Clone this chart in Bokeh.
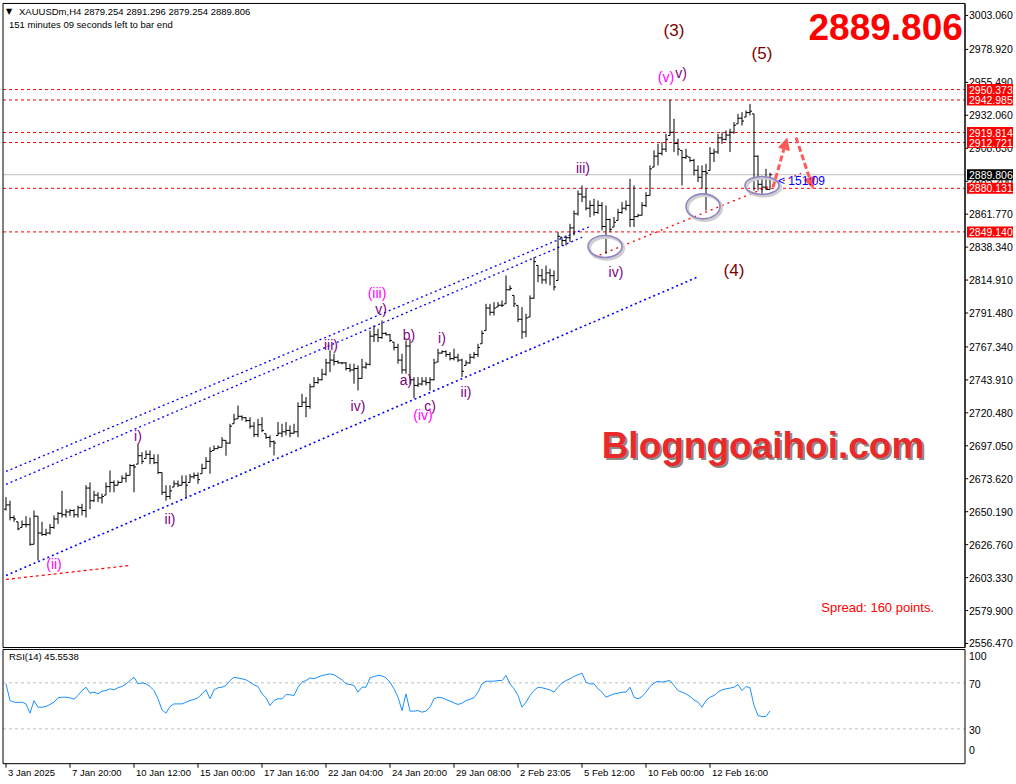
from bokeh.plotting import figure
from bokeh.models import ColumnDataSource, Label, Arrow, NormalHead, Range1d
from bokeh.embed import file_html
from bokeh.resources import INLINE
from bokeh.core.properties import value

# ---------------- data (XAUUSDm, H4) ----------------
high = [2660.6, 2658.0, 2647.5, 2643.0, 2644.0, 2647.0, 2646.0, 2651.0, 2647.0, 2643.0,
        2638.0, 2641.5, 2647.5, 2650.0, 2665.0, 2652.0, 2652.0, 2652.0, 2654.6, 2655.8,
        2669.0, 2671.0, 2665.0, 2664.0, 2663.0, 2671.0, 2679.5, 2672.4, 2672.4, 2676.0,
        2678.0, 2684.0, 2684.0, 2698.5, 2692.5, 2693.7, 2693.7, 2691.0, 2691.0, 2678.0,
        2669.0, 2669.0, 2672.4, 2672.4, 2676.0, 2676.0, 2677.0, 2678.0, 2678.0, 2684.3,
        2689.0, 2696.0, 2697.3, 2697.3, 2703.2, 2700.9, 2712.7, 2719.8, 2725.7, 2718.6,
        2717.4, 2717.4, 2713.9, 2716.2, 2717.4, 2705.6, 2704.4, 2700.9, 2713.9, 2712.7,
        2713.9, 2711.5, 2712.7, 2728.0, 2734.0, 2731.7, 2741.2, 2745.9, 2745.9, 2751.8,
        2758.9, 2764.9, 2762.5, 2757.8, 2756.6, 2756.6, 2755.4, 2755.4, 2754.2, 2758.9,
        2756.6, 2779.0, 2782.6, 2780.3, 2786.2, 2777.9, 2776.7, 2770.8, 2769.6, 2762.5,
        2772.0, 2773.1, 2745.9, 2745.9, 2745.9, 2745.9, 2745.9, 2758.9, 2766.0, 2764.9,
        2764.9, 2763.7, 2766.1, 2762.5, 2759.0, 2757.8, 2762.5, 2763.7, 2769.6, 2779.0,
        2798.0, 2798.0, 2799.2, 2799.2, 2800.4, 2818.2, 2811.1, 2804.0, 2796.9, 2795.7,
        2790.9, 2804.0, 2831.2, 2825.3, 2822.9, 2825.3, 2822.9, 2821.7, 2849.0, 2845.4,
        2846.6, 2854.9, 2864.4, 2878.6, 2882.2, 2879.8, 2871.5, 2872.7, 2871.5, 2870.3,
        2868.0, 2858.5, 2859.7, 2865.6, 2870.3, 2871.5, 2886.9, 2882.2, 2862.0, 2870.3,
        2877.4, 2896.4, 2907.1, 2911.8, 2913.0, 2918.9, 2943.1, 2929.6, 2915.4, 2907.1,
        2908.3, 2902.3, 2901.1, 2896.4, 2896.4, 2897.6, 2909.4, 2908.3, 2918.9, 2920.1,
        2921.3, 2922.5, 2927.2, 2933.1, 2934.3, 2935.5, 2940.2, 2933.1, 2903.5, 2886.9,
        2894.0, 2891.296]

low = [2651.0, 2644.0, 2643.0, 2637.0, 2639.0, 2639.0, 2626.0, 2627.0, 2615.5, 2633.0,
       2633.0, 2634.0, 2638.0, 2641.5, 2646.0, 2646.0, 2647.0, 2646.0, 2646.0, 2647.5,
       2646.0, 2652.0, 2657.0, 2657.0, 2656.0, 2662.0, 2664.0, 2664.0, 2669.0, 2671.0,
       2671.0, 2676.0, 2664.0, 2684.0, 2684.0, 2688.0, 2684.0, 2684.0, 2677.0, 2662.0,
       2658.0, 2659.0, 2667.7, 2667.7, 2669.0, 2660.6, 2671.0, 2673.6, 2670.0, 2677.2,
       2680.7, 2677.2, 2693.7, 2695.0, 2696.0, 2690.0, 2698.5, 2712.7, 2716.2, 2715.0,
       2713.9, 2709.2, 2703.2, 2703.2, 2706.8, 2702.0, 2696.0, 2690.2, 2704.4, 2703.2,
       2704.4, 2703.2, 2705.6, 2703.2, 2724.6, 2717.4, 2723.4, 2738.8, 2741.2, 2743.5,
       2747.0, 2749.4, 2754.2, 2755.4, 2755.0, 2750.6, 2749.4, 2741.2, 2736.4, 2744.7,
       2751.8, 2754.2, 2770.8, 2770.8, 2773.1, 2775.5, 2770.8, 2764.9, 2755.4, 2748.3,
       2748.3, 2741.2, 2731.0, 2738.8, 2740.0, 2740.0, 2736.4, 2743.5, 2756.6, 2762.5,
       2760.1, 2757.8, 2757.8, 2756.6, 2746.0, 2754.2, 2755.4, 2759.0, 2760.1, 2769.6,
       2779.0, 2789.7, 2789.7, 2795.7, 2795.7, 2798.0, 2807.5, 2795.7, 2785.0, 2773.1,
       2774.3, 2788.6, 2801.6, 2813.4, 2812.3, 2812.3, 2811.1, 2807.5, 2814.6, 2839.5,
       2839.5, 2841.9, 2846.6, 2860.8, 2870.3, 2864.4, 2859.6, 2860.8, 2862.0, 2850.2,
       2833.6, 2849.0, 2852.6, 2857.3, 2862.0, 2864.4, 2852.6, 2852.6, 2859.7, 2860.8,
       2866.8, 2875.1, 2895.2, 2896.4, 2903.5, 2905.9, 2917.7, 2905.9, 2903.5, 2882.2,
       2901.1, 2898.8, 2889.3, 2884.6, 2879.8, 2864.4, 2892.8, 2898.8, 2904.7, 2911.8,
       2914.2, 2905.9, 2918.9, 2926.0, 2924.8, 2930.8, 2932.0, 2878.6, 2878.6, 2876.2,
       2879.2, 2879.254]

close = [2655, 2646, 2645, 2638, 2641, 2641, 2627, 2647, 2635, 2634,
         2635, 2639, 2645, 2649, 2648, 2650, 2651, 2648, 2653, 2651,
         2667, 2658, 2662, 2660, 2661, 2668, 2671, 2669, 2671, 2674,
         2676, 2683, 2682, 2690, 2686, 2691, 2688, 2685, 2678, 2664,
         2661, 2665, 2670, 2669, 2671, 2669, 2675, 2676, 2673, 2681,
         2686, 2693, 2695, 2696, 2701, 2699, 2711, 2716, 2718, 2717,
         2715, 2711, 2705, 2712, 2708, 2703, 2700, 2699, 2706, 2707,
         2708, 2706, 2707, 2725, 2728, 2725, 2739, 2742, 2744, 2748,
         2756, 2758, 2757, 2756, 2756, 2752, 2751, 2752, 2745, 2753,
         2755, 2775, 2776, 2774, 2777, 2776, 2772, 2767, 2758, 2751,
         2768, 2744, 2740, 2741, 2743, 2742, 2744, 2756, 2763, 2764,
         2762, 2759, 2760, 2758, 2750, 2756, 2760, 2762, 2767, 2777,
         2795, 2792, 2795, 2797, 2797, 2808, 2809, 2798, 2787, 2778,
         2788, 2802, 2828, 2818, 2815, 2820, 2818, 2810, 2846, 2843,
         2845, 2852, 2862, 2876, 2874, 2866, 2868, 2863, 2868, 2853,
         2858, 2851, 2856, 2863, 2866, 2868, 2858, 2860, 2861, 2868,
         2875, 2894, 2903, 2905, 2908, 2915, 2920, 2912, 2908, 2902,
         2903, 2900, 2893, 2888, 2892, 2891, 2905, 2906, 2916, 2915,
         2918, 2920, 2925, 2930, 2928, 2934, 2935, 2903, 2883, 2881,
         2879.254, 2889.806]

first_open = 2652.0

rsi = [69.1, 54.6, 53.2, 52.9, 53.2, 51.7, 43.6, 54.6, 48.8, 48.8,
       49.4, 51.2, 53.2, 57.0, 57.5, 57.5, 57.0, 55.8, 59.0, 63.3,
       66.2, 61.0, 61.9, 60.4, 62.8, 63.3, 64.8, 63.9, 65.7, 66.8,
       69.1, 72.0, 74.9, 69.1, 70.0, 69.1, 66.8, 63.3, 56.1, 46.5,
       43.6, 49.4, 51.7, 51.7, 51.7, 53.2, 54.6, 55.5, 57.0, 60.4,
       63.9, 56.1, 63.9, 65.7, 66.2, 67.7, 72.0, 74.9, 74.1, 73.5,
       72.6, 70.6, 68.3, 66.8, 60.4, 57.0, 50.3, 54.6, 56.1, 56.1,
       59.9, 59.6, 59.0, 66.2, 70.6, 72.0, 74.3, 73.5, 74.9, 76.4,
       77.0, 77.8, 77.0, 74.9, 72.6, 69.1, 68.6, 67.7, 61.9, 66.2,
       66.2, 74.3, 75.5, 76.4, 76.1, 74.3, 70.6, 64.8, 57.5, 45.9,
       60.4, 45.4, 45.4, 45.9, 44.5, 45.4, 48.8, 56.1, 57.5, 57.0,
       55.5, 54.1, 52.6, 51.2, 52.3, 54.6, 55.8, 57.0, 61.9, 69.1,
       71.4, 71.4, 71.4, 72.0, 72.0, 76.4, 69.1, 64.8, 59.0, 48.8,
       53.2, 59.0, 63.3, 66.2, 65.7, 64.8, 63.9, 61.9, 66.2, 69.7,
       72.0, 73.5, 75.5, 77.0, 78.4, 70.6, 69.1, 69.1, 64.8, 61.9,
       57.5, 59.0, 60.4, 61.0, 61.9, 61.9, 66.2, 57.5, 56.1, 58.1,
       61.9, 66.8, 69.7, 71.4, 70.6, 71.4, 72.0, 67.7, 63.3, 61.9,
       60.4, 58.1, 55.2, 53.2, 48.8, 54.6, 57.5, 59.0, 61.9, 63.9,
       64.8, 65.4, 66.2, 68.6, 63.3, 66.8, 65.7, 50.3, 41.6, 40.7,
       40.7, 45.5538]

price_ticks = [3003.06, 2978.92, 2955.49, 2932.06, 2908.63, 2885.20, 2861.77, 2838.34,
               2814.91, 2791.48, 2767.34, 2743.91, 2720.48, 2697.05, 2673.62, 2650.19,
               2626.76, 2603.33, 2579.90, 2556.47]
level_prices = [2950.373, 2942.985, 2919.814, 2912.721, 2880.131, 2849.140]
last_price = 2889.806

rsi_levels = [70, 30]
rsi_tick_labels = ["100", "70", "30", "0"]

time_tick_bars = [0, 16, 32, 48, 64, 80, 96, 112, 128, 144, 160, 176]
time_tick_labels = ["3 Jan 2025", "7 Jan 20:00", "10 Jan 12:00", "15 Jan 00:00", "17 Jan 16:00",
                    "22 Jan 04:00", "24 Jan 20:00", "29 Jan 08:00", "2 Feb 23:05", "5 Feb 12:00",
                    "10 Feb 00:00", "12 Feb 16:00"]

FONT = "Liberation Sans"

# ---------------- layout geometry (bar index / price / rsi units) ----------------
X_L, X_R = -0.75, 239.75            # plot panel left / right (price scale at right)
MAIN_TOP, MAIN_BOT = 3011.6, 2553.6  # main panel in price units
RSI_TOP, RSI_BOT = 99.0, -0.3        # rsi panel in rsi units
TICK = 0.8                           # tick length in bars
LBL_X = X_R + 1.0                    # left edge of scale labels
BOX_X = 246.0                        # centre of the price boxes
rsi_label_pos = [93.7, 69.4, 29.4, 11.5]

p = figure(width=1016, height=784, x_range=Range1d(-1.375, 252.625),
           y_range=Range1d(2456.2, 3013.7), extra_y_ranges={"rsi": Range1d(-18.4, 663.3)},
           x_axis_location=None, y_axis_location=None, toolbar_location=None,
           output_backend="svg", min_border=0, outline_line_color=None,
           background_fill_color="white", border_fill_color="white")
p.xgrid.visible = False
p.ygrid.visible = False

# ---------------- main price panel ----------------
n = len(close)
idx = list(range(n))
opens = [first_open] + close[:-1]
opens = [min(max(o, l), h) for o, l, h in zip(opens, low, high)]
src = ColumnDataSource(dict(x=idx, xl=[i - 0.5 for i in idx], xr=[i + 0.5 for i in idx],
                            high=high, low=low, open=opens, close=close))

# level lines
p.segment(x0=X_L, x1=X_R, y0=level_prices, y1=level_prices, line_color="#ff0000",
          line_dash="3 3", line_width=1)
p.segment(x0=X_L, x1=X_R, y0=last_price, y1=last_price, line_color="#c0c0c0", line_width=1)

# channel lines
p.line([0, 146.25], [2678.8, 2853.3], line_color="#0000ff", line_dash="2 3", line_width=1.3)
p.line([0, 144.5], [2669.6, 2845.9], line_color="#0000ff", line_dash="2 3", line_width=1.3)
p.line([0, 173.25], [2604.8, 2817.5], line_color="#0000ff", line_dash="2 3", line_width=1.6)
p.line([0, 30.75], [2602.0, 2611.9], line_color="#ff0000", line_dash="3 3", line_width=1.2)
p.line([147, 198.75], [2831.0, 2890.7], line_color="#ff0000", line_dash="2 4", line_width=1.3)

# bars
p.segment(x0="x", y0="low", x1="x", y1="high", source=src, line_color="black", line_width=1)
p.segment(x0="xl", y0="open", x1="x", y1="open", source=src, line_color="black", line_width=1)
p.segment(x0="x", y0="close", x1="xr", y1="close", source=src, line_color="black", line_width=1)

# ellipses around the lows
ell_x = [149.75, 174.25, 189.0]
ell_y = [2838.8, 2867.3, 2882.2]
ell_w = [34, 34, 34]
ell_h = [22, 25, 18]
p.ellipse(x=[e + 0.4 for e in ell_x], y=[e - 1.2 for e in ell_y], width=ell_w, height=ell_h,
          width_units="screen", height_units="screen", fill_color=None,
          line_color="#cfcfcf", line_width=3)
p.ellipse(x=ell_x, y=ell_y, width=ell_w, height=ell_h, width_units="screen",
          height_units="screen", fill_color=None, line_color="#9484c4", line_width=1.6)

# price scale
p.segment(x0=X_R, x1=X_R, y0=MAIN_BOT, y1=MAIN_TOP, line_color="black", line_width=1)
p.segment(x0=X_R, x1=X_R + TICK, y0=price_ticks, y1=price_ticks, line_color="black")
p.text(x=LBL_X, y=price_ticks, text=[f"{v:.3f}" for v in price_ticks], text_align="left",
       text_baseline="middle", text_color="black", text_font=value(FONT),
       text_font_size="10.5px")
p.rect(x=BOX_X, y=level_prices, width=46, height=11, width_units="screen",
       height_units="screen", fill_color="#ff0000", line_color=None)
p.text(x=LBL_X, y=level_prices, text=[f"{v:.3f}" for v in level_prices], text_align="left",
       text_baseline="middle", text_color="white", text_font=value(FONT),
       text_font_size="10.5px")
p.rect(x=BOX_X, y=last_price, width=46, height=11, width_units="screen",
       height_units="screen", fill_color="black", line_color=None)
p.text(x=LBL_X, y=[last_price], text=[f"{last_price:.3f}"], text_align="left",
       text_baseline="middle", text_color="white", text_font=value(FONT),
       text_font_size="10.5px")

# panel frame
p.quad(left=X_L, right=X_R, top=MAIN_TOP, bottom=MAIN_BOT, fill_color=None,
       line_color="black", line_width=1)

# arrows
for (xs, ys, xe, ye) in [(191.75, 2880.8, 195.25, 2915.7), (197.5, 2916.3, 201.75, 2880.1)]:
    p.add_layout(Arrow(end=NormalHead(size=11, fill_color="#ff5a5a", line_color="#ff5a5a"),
                       x_start=xs, y_start=ys, x_end=xe, y_end=ye,
                       line_color="#ff5a5a", line_width=3, line_dash="6 3"))

# wave labels
MAG, PUR, DRED = "#ff00ff", "#800080", "#800000"
waves = [("(3)", 167, 2992.4, DRED, "17px"), ("(5)", 189, 2976.0, DRED, "17px"),
         ("(4)", 182, 2821.7, DRED, "17px"),
         ("(v)", 165, 2959.0, MAG, "14px"), ("v)", 168.75, 2962.5, PUR, "14px"),
         ("iii)", 144.25, 2894.3, PUR, "14px"), ("iv)", 152.5, 2820.3, PUR, "14px"),
         ("(iii)", 92.75, 2805.4, MAG, "14px"), ("v)", 93.75, 2794.0, PUR, "14px"),
         ("iii)", 81.25, 2768.4, PUR, "14px"), ("iv)", 88, 2725.7, PUR, "14px"),
         ("b)", 100.75, 2775.5, PUR, "14px"), ("a)", 100, 2743.5, PUR, "14px"),
         ("c)", 106, 2725.7, PUR, "14px"), ("(iv)", 104.25, 2719.3, MAG, "14px"),
         ("i)", 109, 2773.4, PUR, "14px"), ("ii)", 115, 2735.0, PUR, "14px"),
         ("i)", 33, 2703.7, PUR, "14px"), ("ii)", 41, 2644.7, PUR, "14px"),
         ("(ii)", 12, 2612.7, MAG, "14px")]
for t, x, y, c, s in waves:
    p.add_layout(Label(x=x, y=y, text=t, text_align="center", text_baseline="middle",
                       text_color=c, text_font=FONT, text_font_size=s))

# countdown
p.add_layout(Label(x=193, y=2885.0, text="< 151:09", text_align="left", text_baseline="middle",
                   text_color="#0000ff", text_font=FONT, text_font_size="12px"))

# big price
p.add_layout(Label(x=239.2, y=2995.2, text="2889.806", text_align="right", text_baseline="middle",
                   text_color="#ff0000", text_font=FONT, text_font_size="37px",
                   text_font_style="bold"))

# watermark
p.add_layout(Label(x=189.25, y=2697.3, text="Blogngoaihoi.com", text_align="center",
                   text_baseline="middle", text_color="#8a8a8a", text_font=FONT,
                   text_font_size="37px", text_font_style="bold", x_offset=2, y_offset=-2))
p.add_layout(Label(x=189.25, y=2697.3, text="Blogngoaihoi.com", text_align="center",
                   text_baseline="middle", text_color="#ea2a2a", text_font=FONT,
                   text_font_size="37px", text_font_style="bold"))

# spread
p.add_layout(Label(x=232, y=2582.1, text="Spread: 160 points.", text_align="right",
                   text_baseline="middle", text_color="#ff0000", text_font=FONT,
                   text_font_size="13px"))

# header texts
p.add_layout(Label(x=0.0, y=3005.9, text="\u25bc", text_align="left", text_baseline="middle",
                   text_color="black", text_font="DejaVu Sans", text_font_size="8px"))
p.add_layout(Label(x=3.25, y=3005.9, text="XAUUSDm,H4  2879.254 2891.296 2879.254 2889.806",
                   text_align="left", text_baseline="middle", text_color="black",
                   text_font=FONT, text_font_size="9.5px"))
p.add_layout(Label(x=0.75, y=2996.7, text="151 minutes 09 seconds left to bar end",
                   text_align="left", text_baseline="middle", text_color="black",
                   text_font=FONT, text_font_size="9.5px"))

# ---------------- RSI panel ----------------
p.segment(x0=X_L, x1=X_R, y0=rsi_levels, y1=rsi_levels, line_color="#c0c0c0",
          line_dash="3 3", line_width=1, y_range_name="rsi")
p.line(idx, rsi, line_color="#1e90ff", line_width=1, y_range_name="rsi")
p.quad(left=X_L, right=X_R, top=RSI_TOP, bottom=RSI_BOT, fill_color=None,
       line_color="black", line_width=1, y_range_name="rsi")
p.text(x=LBL_X, y=rsi_label_pos, text=rsi_tick_labels, text_align="left",
       text_baseline="middle", text_color="black", text_font=value(FONT),
       text_font_size="10.5px", y_range_name="rsi")
p.add_layout(Label(x=0.75, y=92.8, y_range_name="rsi", text="RSI(14) 45.5538",
                   text_align="left", text_baseline="middle", text_color="black",
                   text_font=FONT, text_font_size="9.5px"))

# time scale
p.segment(x0=time_tick_bars, x1=time_tick_bars, y0=RSI_BOT, y1=RSI_BOT - 3.5,
          line_color="black", y_range_name="rsi")
p.text(x=[b + 0.5 for b in time_tick_bars], y=-8.1, text=time_tick_labels, text_align="left",
       text_baseline="middle", text_color="black", text_font=value(FONT),
       text_font_size="9.5px", y_range_name="rsi")

open("out.html", "w").write(file_html(p, INLINE))
